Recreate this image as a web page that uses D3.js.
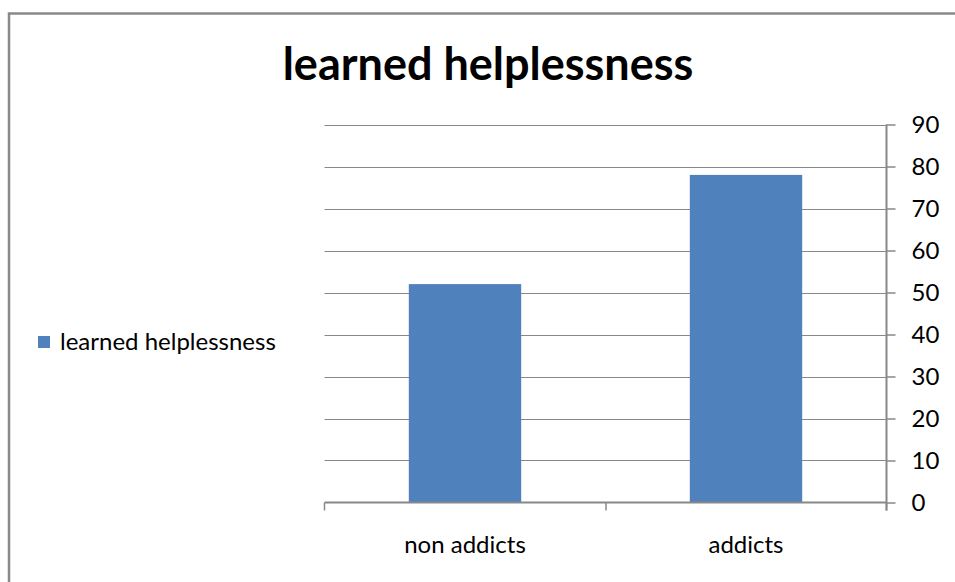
<!DOCTYPE html>
<html>
<head>
<meta charset="utf-8">
<script src="https://cdn.jsdelivr.net/npm/d3@7"></script>
<style>
  body { margin: 0; background: #fff; }
  svg { display: block; font-family: Lato, "Open Sans", sans-serif; }
</style>
</head>
<body>
<svg id="chart" width="955" height="582"></svg>
<script>
// data
const categories = ['non addicts', 'addicts']
const values = [52, 78]
const seriesName = 'learned helplessness'
const yTicks = [0, 10, 20, 30, 40, 50, 60, 70, 80, 90]

const svg = d3.select('#chart')

// outer frame (goes off right / bottom)
svg.append('path')
  .attr('d', 'M9,590 L9,13.5 L960,13.5')
  .attr('fill', 'none')
  .attr('stroke', '#898989')
  .attr('stroke-width', 2.5)

// title
svg.append('text')
  .attr('x', 488)
  .attr('y', 80)
  .attr('text-anchor', 'middle')
  .style('font-size', '45px')
  .style('font-weight', 'bold')
  .text(seriesName)

const x = d3.scaleBand()
  .domain(categories)
  .range([324.5, 886.5])
  .paddingInner(0.6)
  .paddingOuter(0.3)

const y = d3.scaleLinear()
  .domain([0, 90])
  .range([502.5, 124.5])

// gridlines
svg.append('g')
  .selectAll('line')
  .data(yTicks.slice(1))
  .enter()
  .append('line')
  .attr('x1', 324.5)
  .attr('x2', 886.5)
  .attr('y1', (d) => { return Math.round(y(d)) + 0.5 })
  .attr('y2', (d) => { return Math.round(y(d)) + 0.5 })
  .attr('stroke', '#888')
  .attr('stroke-width', 1)

// bars
svg.selectAll('.bar')
  .data(values)
  .enter()
  .append('rect')
  .attr('class', 'bar')
  .attr('x', (d, i) => { return x(categories[i]) })
  .attr('width', x.bandwidth())
  .attr('y', (d) => { return y(d) })
  .attr('height', (d) => { return y(0) - y(d) })
  .attr('fill', '#4F81BD')

// x axis
const xAxis = svg.append('g')
  .attr('transform', 'translate(0,' + y(0) + ')')
  .call(d3.axisBottom(x).tickSize(0).tickFormat(''))
xAxis.select('.domain').remove()
xAxis.append('line')
  .attr('x1', 324.5).attr('x2', 886.5)
  .attr('stroke', '#888').attr('stroke-width', 2)
// category boundary ticks
const bounds = [324.5, 606, 886.5]
xAxis.selectAll('.btick')
  .data(bounds)
  .enter()
  .append('line')
  .attr('class', 'btick')
  .attr('x1', (d) => { return d })
  .attr('x2', (d) => { return d })
  .attr('y1', 0)
  .attr('y2', 8)
  .attr('stroke', '#888')
  .attr('stroke-width', 1.5)

svg.append('g')
  .selectAll('text')
  .data(categories)
  .enter()
  .append('text')
  .attr('x', (d) => { return x(d) + x.bandwidth() / 2 })
  .attr('y', 553)
  .attr('text-anchor', 'middle')
  .style('font-size', '24px')
  .text((d) => { return d })

// right y axis
const yAxis = svg.append('g')
  .attr('transform', 'translate(886.5,0)')
  .call(d3.axisRight(y).tickValues(yTicks).tickSize(9).tickPadding(16))
yAxis.select('.domain').attr('stroke', '#888').attr('stroke-width', 2)
  .attr('d', 'M0,' + y(90) + 'V' + (y(0) + 8))
yAxis.selectAll('.tick line').attr('stroke', '#888').attr('stroke-width', 1.5)
yAxis.selectAll('.tick text')
  .style('font-size', '24px')
  .style('font-family', 'Lato, sans-serif')
  .attr('fill', '#000')

// legend
svg.append('rect')
  .attr('x', 38)
  .attr('y', 336)
  .attr('width', 12)
  .attr('height', 12)
  .attr('fill', '#4F81BD')
svg.append('text')
  .attr('x', 60)
  .attr('y', 350)
  .style('font-size', '24px')
  .text(seriesName)
</script>
</body>
</html>
